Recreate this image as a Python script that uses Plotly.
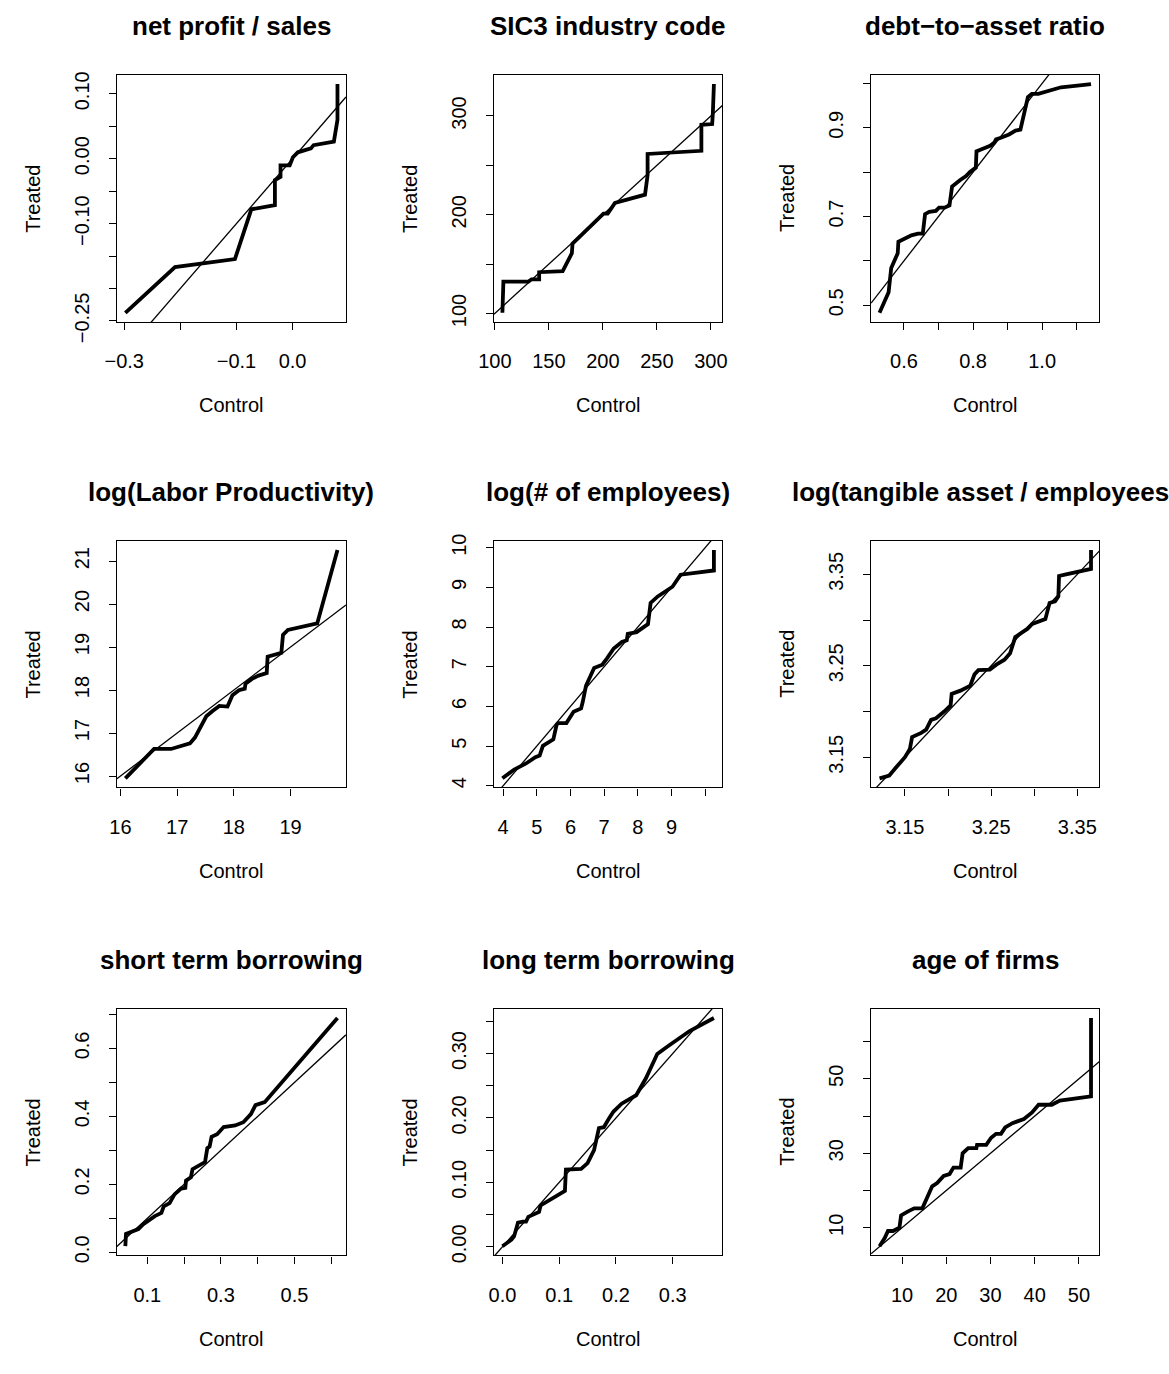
import plotly.graph_objects as go

W, H = 1169, 1374
FONT = "Liberation Sans, Arial, Helvetica, sans-serif"
M = "\u2212"

# ---------------- data ----------------
P1_TITLE = "net profit / sales"
P1_CONTROL = [-0.298, -0.2095, -0.1027, -0.0735, -0.0315, -0.0315, -0.0215, -0.0215, -0.0052,
              0.0006, 0.0094, 0.0327, 0.0374, 0.0736, 0.0800, 0.0800]
P1_TREATED = [-0.2375, -0.167, -0.1547, -0.078, -0.0715, -0.033, -0.028, -0.0103, -0.0103,
              0.0022, 0.0098, 0.0158, 0.0208, 0.0263, 0.060, 0.115]
P1_XTICKS = [-0.3, -0.2, -0.1, 0.0]
P1_XLABELS = [M + "0.3", "", M + "0.1", "0.0"]
P1_YTICKS = [-0.25, -0.20, -0.15, -0.10, -0.05, 0.0, 0.05, 0.10]
P1_YLABELS = [M + "0.25", "", "", M + "0.10", "", "0.00", "", "0.10"]

P2_TITLE = "SIC3 industry code"
P2_CONTROL = [107, 107.9, 131.1, 134, 141, 141, 162.8, 171.3, 171.9, 193, 200.6, 204.5, 211.2,
              239, 241.4, 241.4, 261, 291.2, 291.2, 301.2, 301.8, 302.8]
P2_TREATED = [100.7, 132.3, 132.3, 134.6, 134.6, 141.8, 142.8, 161, 170.8, 192.3, 201.2, 201.2,
              212, 220.3, 240, 261.5, 263, 264.7, 291, 291.8, 302.6, 332.3]
P2_XTICKS = [100, 150, 200, 250, 300]
P2_XLABELS = ["100", "150", "200", "250", "300"]
P2_YTICKS = [100, 150, 200, 250, 300]
P2_YLABELS = ["100", "", "200", "", "300"]

P3_TITLE = "debt\u2212to\u2212asset ratio"
P3_CONTROL = [0.5294, 0.5416, 0.5557, 0.5633, 0.5727, 0.5821, 0.584, 0.6028, 0.6217, 0.6405,
              0.6546, 0.6612, 0.6734, 0.6923, 0.7017, 0.7177, 0.7318, 0.7394, 0.7535, 0.7629,
              0.7798, 0.7911, 0.8081, 0.81, 0.8194, 0.8382, 0.8495, 0.8618, 0.8665, 0.8806,
              0.9041, 0.923, 0.9371, 0.9588, 0.9701, 0.9889, 1.0172, 1.0548, 1.1019, 1.1414]
P3_TREATED = [0.4831, 0.5037, 0.5293, 0.5843, 0.6026, 0.6173, 0.643, 0.6503, 0.6576, 0.6613,
              0.6613, 0.7053, 0.7104, 0.7126, 0.7199, 0.7199, 0.7251, 0.7676, 0.7749, 0.7823,
              0.7911, 0.8006, 0.8101, 0.8468, 0.8497, 0.8556, 0.8592, 0.8666, 0.8739, 0.8776,
              0.8849, 0.8937, 0.8959, 0.9692, 0.9765, 0.9765, 0.9824, 0.9912, 0.9949, 0.9985]
P3_XTICKS = [0.6, 0.7, 0.8, 0.9, 1.0, 1.1]
P3_XLABELS = ["0.6", "", "0.8", "", "1.0", ""]
P3_YTICKS = [0.5, 0.6, 0.7, 0.8, 0.9, 1.0]
P3_YLABELS = ["0.5", "", "0.7", "", "0.9", ""]

P4_TITLE = "log(Labor Productivity)"
P4_CONTROL = [16.086, 16.593, 16.892, 17.226, 17.313, 17.399, 17.514, 17.63, 17.744, 17.888,
              17.946, 17.975, 18.09, 18.193, 18.205, 18.32, 18.435, 18.58, 18.596, 18.838,
              18.867, 18.953, 19.471, 19.828]
P4_TREATED = [15.947, 16.63, 16.63, 16.759, 16.895, 17.123, 17.389, 17.517, 17.631, 17.616,
              17.768, 17.882, 17.995, 18.033, 18.147, 18.261, 18.337, 18.398, 18.777, 18.868,
              19.285, 19.399, 19.551, 21.258]
P4_XTICKS = [16, 17, 18, 19]
P4_XLABELS = ["16", "17", "18", "19"]
P4_YTICKS = [16, 17, 18, 19, 20, 21]
P4_YLABELS = ["16", "17", "18", "19", "20", "21"]

P5_TITLE = "log(# of employees)"
P5_CONTROL = [3.98, 4.33, 4.669, 4.959, 5.085, 5.182, 5.492, 5.589, 5.638, 5.88, 6.093, 6.316,
              6.364, 6.461, 6.703, 6.946, 7.091, 7.285, 7.527, 7.672, 7.702, 7.963, 8.302,
              8.38, 8.593, 9.029, 9.271, 10.26, 10.26]
P5_TREATED = [4.188, 4.41, 4.556, 4.72, 4.761, 5.007, 5.17, 5.538, 5.579, 5.579, 5.866, 5.948,
              6.111, 6.52, 6.97, 7.052, 7.216, 7.461, 7.625, 7.666, 7.83, 7.871, 8.075, 8.607,
              8.771, 9.016, 9.319, 9.426, 9.941]
P5_XTICKS = [4, 5, 6, 7, 8, 9, 10]
P5_XLABELS = ["4", "5", "6", "7", "8", "9", ""]
P5_YTICKS = [4, 5, 6, 7, 8, 9, 10]
P5_YLABELS = ["4", "5", "6", "7", "8", "9", "10"]

P6_TITLE = "log(tangible asset / employees)"
P6_CONTROL = [3.1205, 3.1318, 3.1386, 3.15, 3.1557, 3.1583, 3.1689, 3.1746, 3.1803, 3.186,
              3.1955, 3.203, 3.2042, 3.2144, 3.2258, 3.2307, 3.2352, 3.2428, 3.2485, 3.256,
              3.2655, 3.272, 3.278, 3.2864, 3.292, 3.2977, 3.3053, 3.3129, 3.3178, 3.3242,
              3.328, 3.3288, 3.3356, 3.3508, 3.3659, 3.3659]
P6_TREATED = [3.1269, 3.1298, 3.1376, 3.15, 3.1589, 3.172, 3.1766, 3.1802, 3.1909, 3.1926,
              3.2, 3.2068, 3.2193, 3.2228, 3.2282, 3.2406, 3.2452, 3.2452, 3.2459, 3.2512,
              3.2566, 3.2637, 3.2814, 3.2868, 3.2903, 3.2957, 3.2985, 3.301, 3.3187, 3.3205,
              3.3258, 3.3482, 3.3496, 3.3532, 3.356, 3.3766]
P6_XTICKS = [3.15, 3.20, 3.25, 3.30, 3.35]
P6_XLABELS = ["3.15", "", "3.25", "", "3.35"]
P6_YTICKS = [3.15, 3.20, 3.25, 3.30, 3.35]
P6_YLABELS = ["3.15", "", "3.25", "", "3.35"]

P7_TITLE = "short term borrowing"
P7_CONTROL = [0.0403, 0.0421, 0.0537, 0.0759, 0.0893, 0.1071, 0.1205, 0.1383, 0.1446, 0.1606,
              0.174, 0.1918, 0.2034, 0.2052, 0.2185, 0.223, 0.2408, 0.2569, 0.2631, 0.2693,
              0.2747, 0.2898, 0.3076, 0.3389, 0.3611, 0.3816, 0.3941, 0.4191, 0.6169]
P7_TREATED = [0.0181, 0.0543, 0.059, 0.0686, 0.0829, 0.0971, 0.1067, 0.1162, 0.1352, 0.1448,
              0.1705, 0.1876, 0.1895, 0.2114, 0.221, 0.2448, 0.2571, 0.2657, 0.3067, 0.3114,
              0.34, 0.3476, 0.3686, 0.3733, 0.3829, 0.4067, 0.4333, 0.4419, 0.6895]
P7_XTICKS = [0.1, 0.2, 0.3, 0.4, 0.5, 0.6]
P7_XLABELS = ["0.1", "", "0.3", "", "0.5", ""]
P7_YTICKS = [0.0, 0.1, 0.2, 0.3, 0.4, 0.5, 0.6, 0.7]
P7_YLABELS = ["0.0", "", "0.2", "", "0.4", "", "0.6", ""]

P8_TITLE = "long term borrowing"
P8_CONTROL = [0.0, 0.0074, 0.016, 0.0205, 0.0274, 0.0359, 0.0416, 0.0456, 0.0559, 0.0645,
              0.0673, 0.0816, 0.0901, 0.1101, 0.1118, 0.1244, 0.1386, 0.15, 0.1614, 0.17,
              0.1786, 0.1871, 0.1957, 0.2099, 0.2356, 0.2527, 0.2727, 0.2926, 0.3297, 0.3725]
P8_TREATED = [0.001, 0.0051, 0.0111, 0.0162, 0.0374, 0.039, 0.039, 0.0465, 0.0501, 0.0541,
              0.0642, 0.0718, 0.0769, 0.087, 0.1199, 0.1199, 0.1209, 0.13, 0.1502, 0.1841,
              0.1856, 0.1983, 0.2099, 0.2221, 0.2352, 0.2615, 0.2994, 0.3121, 0.3349, 0.3551]
P8_XTICKS = [0.0, 0.1, 0.2, 0.3]
P8_XLABELS = ["0.0", "0.1", "0.2", "0.3"]
P8_YTICKS = [0.0, 0.05, 0.10, 0.15, 0.20, 0.25, 0.30, 0.35]
P8_YLABELS = ["0.00", "", "0.10", "", "0.20", "", "0.30", ""]

P9_TITLE = "age of firms"
P9_CONTROL = [4.9, 6.074, 6.815, 7.926, 9.407, 9.778, 11.26, 12.74, 14.59, 16.81, 17.93, 19.41,
              20.74, 21.63, 23.26, 23.7, 24.96, 26.81, 26.96, 29.04, 30.15, 31.26, 32.37,
              33.33, 34.96, 37.56, 39.41, 40.89, 43.85, 45.7, 52.74, 52.74]
P9_TREATED = [5.043, 7.217, 9.13, 9.13, 10.0, 13.3, 14.35, 15.22, 15.22, 21.13, 22.0, 23.91,
              24.43, 26.17, 26.17, 30.0, 31.39, 31.39, 32.26, 32.26, 34.17, 35.22, 35.22,
              36.96, 38.09, 39.22, 40.96, 43.04, 43.04, 44.17, 45.3, 66.35]
P9_XTICKS = [10, 20, 30, 40, 50]
P9_XLABELS = ["10", "20", "30", "40", "50"]
P9_YTICKS = [10, 20, 30, 40, 50, 60]
P9_YLABELS = ["10", "", "30", "", "50", ""]

X_LABEL = "Control"
Y_LABEL = "Treated"
ABLINE_INTERCEPT = 0.0
ABLINE_SLOPE = 1.0

# ---------------- layout ----------------
COL_PX = [(102.7, 336.0), (486.7, 719.3), (870.7, 1103.3)]
ROW_PX = [(69.3, 321.5), (545.0, 796.7), (1022.7, 1274.3)]

panels = [
    (P1_TITLE, P1_CONTROL, P1_TREATED, P1_XTICKS, P1_XLABELS, P1_YTICKS, P1_YLABELS),
    (P2_TITLE, P2_CONTROL, P2_TREATED, P2_XTICKS, P2_XLABELS, P2_YTICKS, P2_YLABELS),
    (P3_TITLE, P3_CONTROL, P3_TREATED, P3_XTICKS, P3_XLABELS, P3_YTICKS, P3_YLABELS),
    (P4_TITLE, P4_CONTROL, P4_TREATED, P4_XTICKS, P4_XLABELS, P4_YTICKS, P4_YLABELS),
    (P5_TITLE, P5_CONTROL, P5_TREATED, P5_XTICKS, P5_XLABELS, P5_YTICKS, P5_YLABELS),
    (P6_TITLE, P6_CONTROL, P6_TREATED, P6_XTICKS, P6_XLABELS, P6_YTICKS, P6_YLABELS),
    (P7_TITLE, P7_CONTROL, P7_TREATED, P7_XTICKS, P7_XLABELS, P7_YTICKS, P7_YLABELS),
    (P8_TITLE, P8_CONTROL, P8_TREATED, P8_XTICKS, P8_XLABELS, P8_YTICKS, P8_YLABELS),
    (P9_TITLE, P9_CONTROL, P9_TREATED, P9_XTICKS, P9_XLABELS, P9_YTICKS, P9_YLABELS),
]


def rrange(v):
    lo, hi = min(v), max(v)
    pad = 0.04 * (hi - lo)
    return [lo - pad, hi + pad]


fig = go.Figure()
annotations = []
layout = {}
TICK_FONT = dict(family=FONT, size=20, color="black")

for i, (title, ctrl, trt, xt, xl, yt, yl) in enumerate(panels):
    r, c = divmod(i, 3)
    x0, x1 = COL_PX[c]
    y0, y1 = ROW_PX[r]
    n = "" if i == 0 else str(i + 1)
    xr = rrange(ctrl)
    yr = rrange(trt)
    fig.add_trace(go.Scatter(x=ctrl, y=trt, mode="lines",
                             line=dict(color="black", width=3.8),
                             xaxis="x" + n, yaxis="y" + n, showlegend=False,
                             hoverinfo="skip"))
    fig.add_trace(go.Scatter(x=[xr[0], xr[1]],
                             y=[ABLINE_INTERCEPT + ABLINE_SLOPE * xr[0],
                                ABLINE_INTERCEPT + ABLINE_SLOPE * xr[1]],
                             mode="lines", line=dict(color="black", width=1.3),
                             xaxis="x" + n, yaxis="y" + n, showlegend=False,
                             hoverinfo="skip"))
    common = dict(showgrid=False, zeroline=False, showline=True, mirror=True,
                  linecolor="black", linewidth=1.4, ticks="outside", ticklen=7,
                  tickwidth=1.4, tickcolor="black", tickfont=TICK_FONT,
                  fixedrange=True)
    layout["xaxis" + n] = dict(common, domain=[x0 / W, x1 / W], range=xr,
                               tickmode="array", tickvals=xt, ticktext=xl,
                               anchor="y" + n, ticklabelstandoff=14)
    layout["yaxis" + n] = dict(common, domain=[1 - y1 / H, 1 - y0 / H], range=yr,
                               tickmode="array", tickvals=yt, ticktext=yl,
                               anchor="x" + n, tickangle=-90, ticklabelstandoff=12)
    cx = (x0 + x1) / 2 / W
    cy = 1 - (y0 + y1) / 2 / H
    annotations.append(dict(text="<b>" + title + "</b>", x=cx, y=1 - (y0 - 50) / H,
                            xref="paper", yref="paper", showarrow=False,
                            xanchor="center", yanchor="middle",
                            font=dict(family=FONT, size=26, color="black")))
    annotations.append(dict(text=X_LABEL, x=cx, y=1 - (y1 + 85) / H,
                            xref="paper", yref="paper", showarrow=False,
                            xanchor="center", yanchor="middle",
                            font=dict(family=FONT, size=20, color="black")))
    annotations.append(dict(text=Y_LABEL, x=(x0 - 85) / W, y=cy,
                            xref="paper", yref="paper", showarrow=False,
                            xanchor="center", yanchor="middle", textangle=-90,
                            font=dict(family=FONT, size=20, color="black")))

fig.update_layout(width=W, height=H, margin=dict(l=0, r=0, t=0, b=0),
                  paper_bgcolor="white", plot_bgcolor="white",
                  annotations=annotations, **layout)
fig.write_html("out.html", config={"displayModeBar": False},
               post_script="document.body.style.margin='0';"
                           "document.body.style.overflow='hidden';")
